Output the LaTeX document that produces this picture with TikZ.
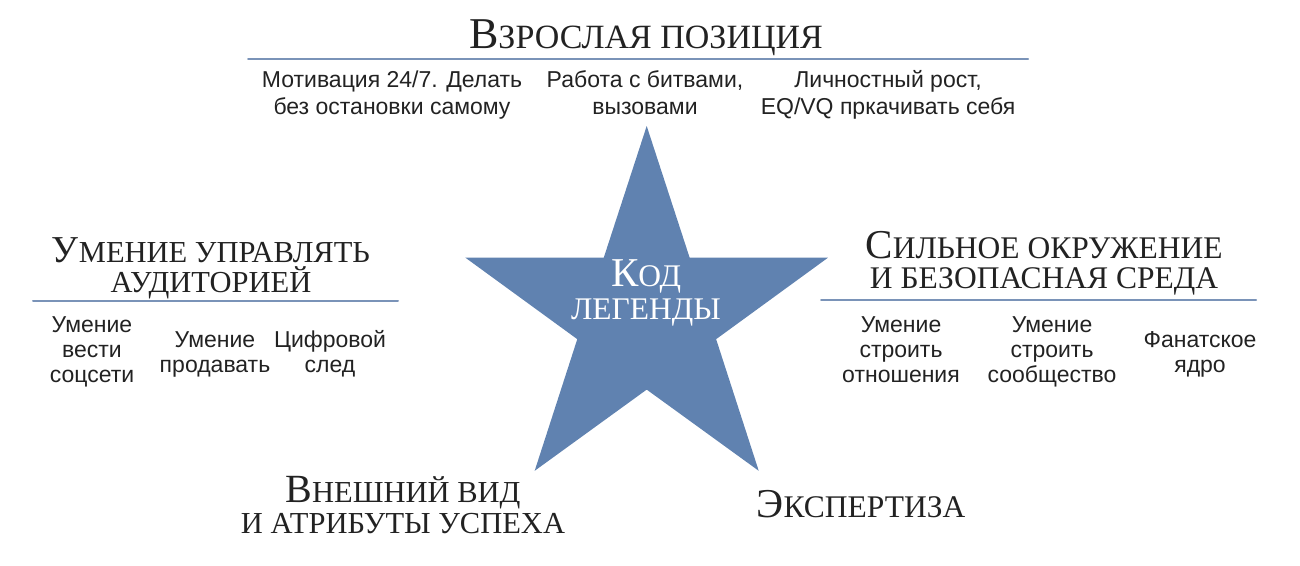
\documentclass[tikz,border=0pt]{standalone}
\usepackage{fontspec}
\setmainfont{Liberation Serif}
\setsansfont{Liberation Sans}
\definecolor{starblue}{RGB}{96,130,176}
\definecolor{ruleblue}{RGB}{122,147,184}
\definecolor{txt}{RGB}{34,34,34}
\newcommand{\bigini}[1]{{\fontsize{41}{30}\selectfont #1}}
\newcommand{\linesize}[2]{\fontsize{#1}{#2}\selectfont\lineskiplimit=-50pt}

\begin{document}
\begin{tikzpicture}[line cap=round,line join=round,x=1pt,y=-1pt,
  head/.style={font=\linesize{31.5}{30},text=txt,align=center,inner sep=0pt,anchor=base},
  item/.style={font=\sffamily\linesize{23}{25},text=txt,align=center,inner sep=0pt,anchor=base},
  rule/.style={color=ruleblue,line width=2pt}]
        \useasboundingbox (0,0) rectangle (1300,565);
        % star
        \fill[starblue,shift={(646.7,316.6)}] (-90:190.6) -- (-54:73) -- (-18:190.6) -- (18:73) -- (54:190.6)
          -- (90:73) -- (126:190.6) -- (162:73) -- (198:190.6) -- (234:73) -- cycle;
        \node[head,text=white,font=\linesize{31.5}{33}] (legend) at (646,319) {\bigini{К}ОД\\ЛЕГЕНДЫ};
        % top
        \node[head,font=\linesize{34}{30}] (adult) at (646,48) {{\fontsize{44}{30}\selectfont В}ЗРОСЛАЯ ПОЗИЦИЯ};
        \coordinate (adultL) at (248,59);
        \coordinate (adultR) at (1028,59);
        \draw[rule] (adultL) -- (adultR);
        \node[item,font=\sffamily\linesize{23}{27}] (motiv) at (392,114) {Мотивация 24/7. Делать\\без остановки самому};
        \node[item,font=\sffamily\linesize{23}{27}] (battle) at (645,114) {Работа с битвами,\\вызовами};
        \node[item,font=\sffamily\linesize{23}{27}] (growth) at (888,114) {Личностный рост,\\EQ/VQ пркачивать себя};
        % left
        \node[head,font=\linesize{30.5}{30}] (audience) at (211,292) {{\fontsize{38}{30}\selectfont У}МЕНИЕ УПРАВЛЯТЬ\\АУДИТОРИЕЙ};
        \coordinate (audL) at (33,301);
        \coordinate (audR) at (398,301);
        \draw[rule] (audL) -- (audR);
        \node[item] (social) at (92,382) {Умение\\вести\\соцсети};
        \node[item] (sell) at (215,372) {Умение\\продавать};
        \node[item] (trace) at (330,372) {Цифровой\\след};
        % right
        \node[head] (circle) at (1044,288) {\bigini{С}ИЛЬНОЕ ОКРУЖЕНИЕ\\И БЕЗОПАСНАЯ СРЕДА};
        \coordinate (envL) at (821,300);
        \coordinate (envR) at (1256,300);
        \draw[rule] (envL) -- (envR);
        \node[item] (relations) at (901,382) {Умение\\строить\\отношения};
        \node[item] (community) at (1052,382) {Умение\\строить\\сообщество};
        \node[item] (core) at (1200,372) {Фанатское\\ядро};
        % bottom
        \node[head,font=\linesize{30.5}{31}] (look) at (403,533) {{\fontsize{40}{30}\selectfont В}НЕШНИЙ ВИД\\И АТРИБУТЫ УСПЕХА};
        \node[head] (expert) at (861,517) {\bigini{Э}КСПЕРТИЗА};
      \end{tikzpicture}
\end{document}
